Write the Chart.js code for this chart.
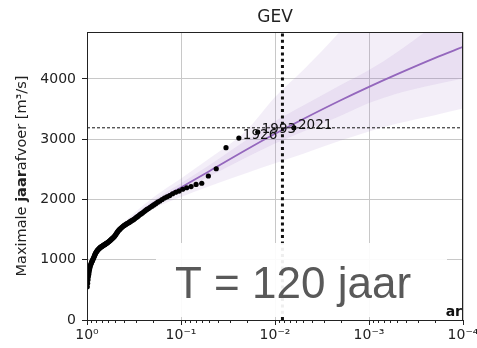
<!DOCTYPE html>
<html>
<head>
<meta charset="utf-8">
<script src="https://cdn.jsdelivr.net/npm/chart.js@4.4.0/dist/chart.umd.min.js"></script>
<style>
  html, body { margin: 0; padding: 0; background: #fff; }
</style>
</head>
<body>
<canvas id="gevChart" width="477" height="348"></canvas>
<script>
// jaarmaxima, gesorteerd van groot naar klein [m3/s]
const maxima = [
  3190, 3120, 3020, 2860, 2510, 2390,
  2270, 2250, 2215, 2195, 2170, 2140,
  2120, 2095, 2065, 2045, 2025, 2000,
  1975, 1955, 1930, 1910, 1890, 1870,
  1850, 1835, 1815, 1795, 1775, 1760,
  1745, 1725, 1710, 1695, 1680, 1665,
  1655, 1645, 1632, 1620, 1610, 1600,
  1590, 1580, 1570, 1560, 1548, 1535,
  1522, 1508, 1495, 1480, 1462, 1445,
  1425, 1408, 1390, 1378, 1365, 1355,
  1345, 1335, 1325, 1315, 1305, 1298,
  1290, 1282, 1275, 1270, 1262, 1255,
  1250, 1245, 1238, 1232, 1226, 1220,
  1214, 1208, 1200, 1194, 1186, 1178,
  1170, 1160, 1150, 1140, 1128, 1115,
  1100, 1085, 1068, 1050, 1032, 1015,
  998, 985, 970, 955, 938, 920,
  900, 870, 840, 800, 760, 720,
  670, 610, 550
];
const labelledYears = ['2021', '1993', '1926'];   // rang 1, 2, 3

// GEV fit en betrouwbaarheidsbanden, per overschrijdingskans
const fitP     = [0.5, 0.2, 0.1, 0.05, 0.02, 0.01, 0.005, 0.002, 0.001, 0.0005, 0.0002, 0.0001];
const fitLine  = [1460, 1930, 2200, 2470, 2830, 3090, 3336, 3647, 3869, 4080, 4346, 4533];
const innerLo  = [1440, 1890, 2140, 2380, 2700, 2930, 3130, 3390, 3600, 3760, 3910, 4010];
const innerHi  = [1480, 1975, 2270, 2570, 2990, 3300, 3560, 3900, 4150, 4450, 4900, 5250];
const outerLo  = [1420, 1840, 2040, 2220, 2440, 2600, 2760, 2980, 3130, 3260, 3400, 3510];
const outerHi  = [1500, 2030, 2350, 2680, 3150, 3700, 4150, 4800, 5350, 5900, 6600, 7200];

const returnPeriod = 120;
const levelLine = 3190;

const xMajor = [1, 0.1, 0.01, 0.001, 0.0001];
const xLabels = ['10\u2070', '10\u207B\u00B9', '10\u207B\u00B2', '10\u207B\u00B3', '10\u207B\u2074'];
const yTicks = [0, 1000, 2000, 3000, 4000];
const yMax = 4780;

const purple = 'rgb(148, 103, 189)';
const band = 'rgba(148, 103, 189, 0.11)';

// plotposities (i - 0.3) / (n + 0.4)
const n = maxima.length;
const points = maxima.map((v, i) => ({ x: (i + 1 - 0.3) / (n + 0.4), y: v }));
const xy = (arr) => fitP.map((p, i) => ({ x: p, y: arr[i] }));

const extras = {
    id: 'extras',
    afterDatasetsDraw(chart) {
        const ctx = chart.ctx;
        const xs = chart.scales.x, ys = chart.scales.y;

        // jaartallen bij de grootste waarnemingen
        ctx.save();
        ctx.font = '13.5px "DejaVu Sans"';
        ctx.fillStyle = '#111';
        [2, 1, 0].forEach(i => {
            const px = xs.getPixelForValue(points[i].x);
            const py = ys.getPixelForValue(points[i].y);
            ctx.fillText(labelledYears[i], px + 4, py + 1);
        });
        ctx.restore();

        // witte tekstbox
        ctx.save();
        ctx.fillStyle = 'rgba(255,255,255,0.93)';
        ctx.fillRect(156, 243, 291, 74);
        ctx.fillStyle = '#595959';
        ctx.font = '44px "Liberation Sans"';
        ctx.fillText('T = ' + returnPeriod + ' jaar', 175, 298);
        ctx.restore();

        ctx.save();
        ctx.font = 'bold 14px "DejaVu Sans"';
        ctx.fillStyle = '#111';
        ctx.textAlign = 'right';
        ctx.fillText('ar', 462, 316);
        ctx.restore();
    },
    afterDraw(chart) {
        const ctx = chart.ctx;
        const a = chart.chartArea;
        const xs = chart.scales.x;

        // kader
        ctx.save();
        ctx.strokeStyle = '#222';
        ctx.lineWidth = 1;
        ctx.strokeRect(a.left + 0.5, a.top + 0.5, a.right - a.left - 1, a.bottom - a.top);

        // kleine ticks op de log-as
        ctx.beginPath();
        for (let d = 0; d < 4; d++) {
            for (let m = 2; m <= 9; m++) {
                const px = Math.round(xs.getPixelForValue(m * Math.pow(10, -d - 1))) + 0.5;
                ctx.moveTo(px, a.bottom);
                ctx.lineTo(px, a.bottom + 3);
            }
        }
        ctx.stroke();

        // titel
        ctx.fillStyle = '#222';
        ctx.font = '17px "DejaVu Sans"';
        ctx.textAlign = 'center';
        ctx.fillText('GEV', (a.left + a.right) / 2, 22);

        // y-as titel met vet "jaar"
        const parts = [['Maximale ', 'normal'], ['jaar', 'bold'], ['afvoer [m\u00B3/s]', 'normal']];
        ctx.translate(26, (a.top + a.bottom) / 2);
        ctx.rotate(-Math.PI / 2);
        ctx.textAlign = 'left';
        let total = 0;
        parts.forEach(p => { ctx.font = p[1] + ' 14.5px "DejaVu Sans"'; total += ctx.measureText(p[0]).width; });
        let x0 = -total / 2;
        parts.forEach(p => {
            ctx.font = p[1] + ' 14.5px "DejaVu Sans"';
            ctx.fillText(p[0], x0, 0);
            x0 += ctx.measureText(p[0]).width;
        });
        ctx.restore();
    }
};

Chart.defaults.font.family = '"DejaVu Sans"';

const smooth = { showLine: true, pointRadius: 0, tension: 0.3, cubicInterpolationMode: 'monotone' };

const ctx = document.getElementById('gevChart').getContext('2d');
const gevChart = new Chart(ctx, {
    type: 'scatter',
    plugins: [extras],
    data: {
        datasets: [
            {
                label: 'waarnemingen',
                data: points,
                backgroundColor: '#000',
                borderWidth: 0,
                pointRadius: 2.6,
            },
            {
                label: 'T-lijn',
                data: [{ x: 1 / returnPeriod, y: 0 }, { x: 1 / returnPeriod, y: yMax }],
                showLine: true,
                borderColor: '#111',
                borderWidth: 3,
                borderDash: [3, 3.3],
                pointRadius: 0,
            },
            {
                label: 'niveau',
                data: [{ x: 1, y: levelLine }, { x: 0.0001, y: levelLine }],
                showLine: true,
                borderColor: '#111',
                borderWidth: 1,
                borderDash: [3, 2],
                pointRadius: 0,
            },
            Object.assign({ label: 'GEV', data: xy(fitLine), borderColor: purple, borderWidth: 1.8 }, smooth),
            Object.assign({ label: 'inner lo', data: xy(innerLo), borderWidth: 0, fill: false }, smooth),
            Object.assign({ label: 'inner hi', data: xy(innerHi), borderWidth: 0, backgroundColor: band, fill: 4 }, smooth),
            Object.assign({ label: 'outer lo', data: xy(outerLo), borderWidth: 0, fill: false }, smooth),
            Object.assign({ label: 'outer hi', data: xy(outerHi), borderWidth: 0, backgroundColor: band, fill: 6 }, smooth)
        ]
    },
    options: {
        responsive: false,
        animation: false,
        layout: { padding: { top: 32, right: 14, left: 0, bottom: 0 } },
        plugins: {
            legend: { display: false },
            tooltip: { enabled: false },
        },
        scales: {
            x: {
                type: 'logarithmic',
                reverse: true,
                min: 0.0001,
                max: 1,
                afterBuildTicks: (s) => { s.ticks = xMajor.map(v => ({ value: v })); },
                afterFit: (s) => { s.height = 28; s.paddingLeft = 0; s.paddingRight = 0; },
                border: { display: false },
                grid: { color: '#c8c8c8', tickColor: '#222', tickLength: 5 },
                ticks: {
                    autoSkip: false,
                    maxRotation: 0,
                    padding: 2,
                    color: '#222',
                    font: { size: 14 },
                    callback: (v, i) => xLabels[i],
                }
            },
            y: {
                min: 0,
                max: yMax,
                afterBuildTicks: (s) => { s.ticks = yTicks.map(v => ({ value: v })); },
                afterFit: (s) => { s.width = 87; s.paddingTop = 0; s.paddingBottom = 0; },
                border: { display: false },
                grid: { color: '#c8c8c8', tickColor: '#222', tickLength: 5 },
                ticks: {
                    padding: 6,
                    color: '#222',
                    font: { size: 14 },
                    callback: (v) => String(v),
                }
            }
        }
    }
});
</script>
</body>
</html>
